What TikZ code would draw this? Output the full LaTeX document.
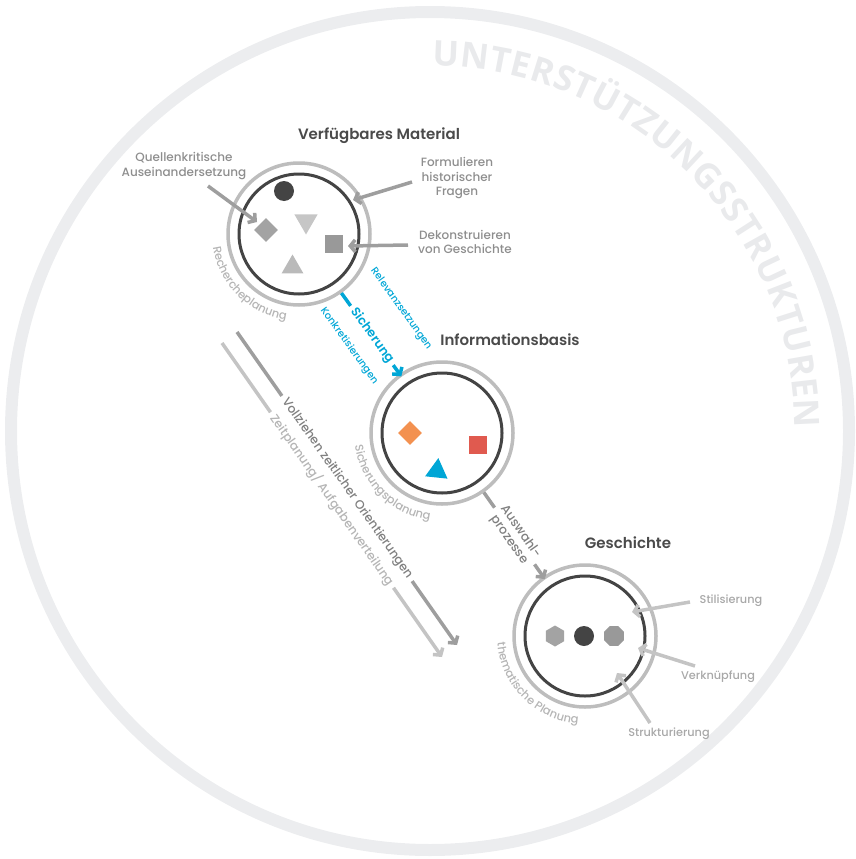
\documentclass[tikz,border=0pt]{standalone}
\usepackage{fontspec}
\setmainfont{Poppins}
\IfFontExistsTF{Poppins Medium}{\newfontfamily\medf{Poppins Medium}}{\newfontfamily\medf{Poppins}}
\IfFontExistsTF{Poppins SemiBold}{\newfontfamily\semf{Poppins SemiBold}}{\newcommand\semf{\bfseries}}
\newfontfamily\osans{Open Sans}
\usetikzlibrary{arrows.meta,calc,decorations.text,shapes.geometric}
\definecolor{ringc}{HTML}{ECEDEF}
\definecolor{ringtxt}{HTML}{E9EAEC}
\definecolor{titlec}{HTML}{4A4A4A}
\definecolor{dk}{HTML}{444444}
\definecolor{lg}{HTML}{BDBDBD}
\definecolor{arctxt}{HTML}{B5B5B5}
\definecolor{labc}{HTML}{8E8E8E}
\definecolor{labl}{HTML}{A8A8A8}
\definecolor{arr1}{HTML}{9E9E9E}
\definecolor{arr3}{HTML}{C4C4C4}
\definecolor{blu}{HTML}{00A6D6}
\definecolor{orn}{HTML}{F39150}
\definecolor{rd}{HTML}{E05A4F}
\definecolor{gA}{HTML}{C6C6C6}
\definecolor{gB}{HTML}{A3A3A3}
\definecolor{gC}{HTML}{999999}
\definecolor{gD}{HTML}{BABABA}
\definecolor{vtxt}{HTML}{808080}
\definecolor{ztxt}{HTML}{B5B5B5}
\tikzset{
  ringstyle/.style={circle, draw=ringc, line width=12pt, minimum size=838pt, inner sep=0pt},
  innerc/.style={circle, draw=dk, line width=3pt, minimum size=120pt, inner sep=0pt},
  outerc/.style={circle, draw=lg, line width=3.5pt, minimum size=142pt, inner sep=0pt},
  titlestyle/.style={font=\semf\fontsize{15}{18}\selectfont, text=titlec},
  labstyle/.style={font=\medf\fontsize{12}{14.5}\selectfont, text=labc, align=center},
  labthree/.style={font=\medf\fontsize{11.3}{13}\selectfont, text=labl},
  barb/.style={-{Straight Barb[length=5pt,width=12pt]}},
  arrA/.style={draw=arr1, line width=3.5pt, barb},
  arrC/.style={draw=arr3, line width=3.5pt, barb},
  blueline/.style={draw=blu, line width=3.5pt},
  bluebig/.style={font=\semf\fontsize{12.5}{15}\selectfont, text=blu, rotate=-54.3, inner sep=4pt},
  bluesmall/.style={font=\medf\fontsize{10}{12}\selectfont, text=blu, rotate=-54.3},
  grayline/.style={draw=arr1, line width=3.5pt},
  grayconn/.style={font=\medf\fontsize{12.5}{14}\selectfont, text=vtxt, align=center, rotate=-54.8, inner sep=4pt},
  longdark/.style={draw=arr1, line width=3.5pt},
  longlight/.style={draw=arr3, line width=3.5pt},
  shp/.style={inner sep=0pt, draw=none},
}
\begin{document}
\begin{tikzpicture}[x=1pt,y=1pt]
\useasboundingbox (0,0) rectangle (856,-859);
% outer ring
\node[ringstyle] (ring) at (430,-431) {};
\path[decorate, decoration={text along path, text align={fit to path},
  text={|\osans\bfseries\fontsize{35}{38}\selectfont\color{ringtxt}|UNTERSTÜTZUNGSSTRUKTUREN}}]
  ($(ring.center)+(89.6:365)$) arc[start angle=89.6, end angle=0.5, radius=365];

% circles
\node[outerc] (m1o) at (299,-234) {};
\node[innerc] (m1) at (299,-234) {};
\node[outerc] (m2o) at (442,-433) {};
\node[innerc] (m2) at (442,-433) {};
\node[outerc] (m3o) at (585,-636) {};
\node[innerc] (m3) at (585,-636) {};

% titles
\node[titlestyle] (t1) at (379,-136) {Verfügbares Material};
\node[titlestyle] (t2) at (510,-340) {Informationsbasis};
\node[titlestyle] (t3) at (628,-543) {Geschichte};

% arc labels
\path[decorate, decoration={text along path, text align=center,
  text={|\medf\fontsize{11.5}{13}\selectfont\color{arctxt}|Rechercheplanung}}]
  ($(m1.center)+(180:87)$) arc[start angle=180, end angle=270, radius=87];
\path[decorate, decoration={text along path, text align=center,
  text={|\medf\fontsize{11.5}{13}\selectfont\color{arctxt}|Sicherungsplanung}}]
  ($(m2.center)+(180:88)$) arc[start angle=180, end angle=270, radius=88];
\path[decorate, decoration={text along path, text align=center,
  text={|\medf\fontsize{11.5}{13}\selectfont\color{arctxt}|thematische Planung}}]
  ($(m3.center)+(180:88)$) arc[start angle=180, end angle=270, radius=88];

% shapes circle 1
\node[shp, circle, fill=dk, minimum size=20pt] (s1a) at (284,-191) {};
\node[shp, regular polygon, regular polygon sides=3, shape border rotate=180, fill=gA, minimum size=27pt] (s1b) at (306,-221) {};
\node[shp, diamond, fill=gB, minimum size=24pt] (s1c) at (266,-230) {};
\node[shp, rectangle, fill=gC, minimum size=18pt] (s1d) at (334,-244) {};
\node[shp, regular polygon, regular polygon sides=3, fill=gD, minimum size=25pt] (s1e) at (292.5,-267) {};

% shapes circle 2
\node[shp, diamond, fill=orn, minimum size=24pt] (s2a) at (410,-433) {};
\node[shp, rectangle, fill=rd, minimum size=18pt] (s2b) at (478,-445) {};
\node[shp, regular polygon, regular polygon sides=3, shape border rotate=-6, fill=blu, minimum size=26pt] (s2c) at (437,-471) {};

% shapes circle 3
\node[shp, regular polygon, regular polygon sides=6, shape border rotate=90, fill=gB, minimum size=21pt] (s3a) at (555,-636) {};
\node[shp, circle, fill=dk, minimum size=20pt] (s3b) at (584,-636) {};
\node[shp, regular polygon, regular polygon sides=8, fill=gC, minimum size=21.5pt] (s3c) at (614,-636) {};

% labels circle 1
\node[labstyle] (lq) at (184,-166) {Quellenkritische\\Auseinandersetzung};
\node[labstyle] (lf) at (457,-178.5) {Formulieren\\historischer\\Fragen};
\node[labstyle] (ld) at (465,-242) {Dekonstruieren\\von Geschichte};
\coordinate (qa) at (208,-186); \coordinate (qb) at (257,-222);
\coordinate (fa) at (412,-182); \coordinate (fb) at (353,-200);
\coordinate (da) at (408,-245); \coordinate (db) at (348,-246);
\draw[arrA] (qa) -- (qb);
\draw[arrA] (fa) -- (fb);
\draw[arrA] (da) -- (db);

% labels circle 3
\node[labthree] (ls) at (731,-601) {Stilisierung};
\node[labthree] (lv) at (718,-677) {Verknüpfung};
\node[labthree] (lk) at (669,-734) {Strukturierung};
\coordinate (sa) at (690,-602); \coordinate (sb) at (632,-612);
\coordinate (va3) at (695,-666); \coordinate (vb3) at (638,-648);
\coordinate (ka) at (650,-723); \coordinate (kb) at (617,-673);
\draw[arrC] (sa) -- (sb);
\draw[arrC] (va3) -- (vb3);
\draw[arrC] (ka) -- (kb);

% connector 1 -> 2
\node[bluebig] (sich) at ($(m1)!125pt!(m2)$) {Sicherung};
\node[bluesmall] (rel) at (401,-309) {Relevanzsetzungen};
\node[bluesmall] (konk) at (349,-346) {Konkretisierungen};
\draw[blueline] (m1o) -- (sich);
\draw[blueline, barb, shorten >=-3pt] (sich) -- (m2o);

% connector 2 -> 3
\node[grayconn] (ausw) at ($(m2)!126pt!(m3)$) {Auswahl-\\prozesse};
\draw[grayline] (m2o) -- (ausw);
\draw[grayline, barb, shorten >=-3pt] (ausw) -- (m3o);

% long arrows
\coordinate (la) at (237,-332); \coordinate (lb) at (457,-645);
\node[font=\medf\fontsize{12.3}{14}\selectfont, text=vtxt, rotate=-54.9, inner sep=4pt] (vt) at ($(la)!0.5!(lb)$) {Vollziehen zeitlicher Orientierungen};
\draw[longdark] (la) -- (vt);
\draw[longdark, barb] (vt) -- (lb);
\coordinate (za) at (222,-343); \coordinate (zb) at (442,-657);
\node[font=\medf\fontsize{12.2}{14}\selectfont, text=ztxt, rotate=-55.0, inner sep=4pt] (zt) at ($(za)!0.5!(zb)$) {Zeitplanung/ Aufgabenverteilung};
\draw[longlight] (za) -- (zt);
\draw[longlight, barb] (zt) -- (zb);
\end{tikzpicture}
\end{document}
